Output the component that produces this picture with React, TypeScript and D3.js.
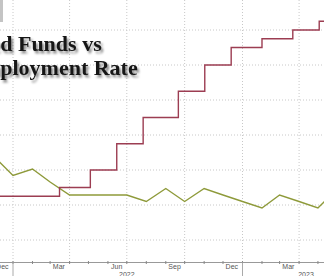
import React from "react";
import * as d3 from "d3";

const W = 324;
const H = 276;

// Fed funds target (upper bound), effective dates
const fedDates = ["2021-11-01", "2022-03-16", "2022-05-04", "2022-06-15", "2022-07-27", "2022-09-21", "2022-11-02", "2022-12-14", "2023-02-01", "2023-03-22", "2023-05-03", "2023-06-15"];
const fedValues = [0.25, 0.5, 1.0, 1.75, 2.5, 3.25, 4.0, 4.5, 4.75, 5.0, 5.25, 5.25];

// Unemployment rate, by reference month (plotted at month end)
const unempMonths = ["2021-11", "2021-12", "2022-01", "2022-02", "2022-03", "2022-04", "2022-05", "2022-06", "2022-07", "2022-08", "2022-09", "2022-10", "2022-11", "2022-12", "2023-01", "2023-02", "2023-03", "2023-04", "2023-05"];
const unempValues = [4.2, 3.9, 4.0, 3.8, 3.6, 3.6, 3.6, 3.6, 3.5, 3.7, 3.5, 3.7, 3.6, 3.5, 3.4, 3.6, 3.5, 3.4, 3.7];

const monthLabels = ["Dec", "Mar", "Jun", "Sep", "Dec", "Mar"];
const monthLabelDates = ["2021-12-15", "2022-03-15", "2022-06-15", "2022-09-15", "2022-12-15", "2023-03-15"];
const yearLabels = ["2022", "2023"];
const yearLabelDates = ["2022-07-01", "2023-04-12"];
const gridTicks = [-1, 0, 1, 2, 3, 4, 5];

const titleLines = ["Fed Funds vs", "Unemployment Rate"];

const parse = d3.utcParse("%Y-%m-%d");
const parseM = d3.utcParse("%Y-%m");

export default function App() {
  const x = d3.scaleUtc().domain([parse("2022-01-01")!, parse("2023-01-01")!]).range([13, 242.5]);
  const yFed = d3.scaleLinear().domain([-1, 5]).range([240, 30]);
  const yU = d3.scaleLinear().domain([3.0, 4.0]).range([234, 169]);

  const fedData = fedDates.map((d, i) => ({ d: parse(d)!, v: fedValues[i] }));
  const fedLine = d3.line<{ d: Date; v: number }>().x(p => x(p.d)).y(p => yFed(p.v)).curve(d3.curveStepAfter);

  const uData = unempMonths.map((m, i) => ({ d: d3.utcMonth.offset(parseM(m)!, 1), v: unempValues[i] }));
  const uLine = d3.line<{ d: Date; v: number }>().x(p => x(p.d)).y(p => yU(p.v));

  const domainStart = x.invert(-30);
  const domainEnd = x.invert(W + 30);
  const quarters = d3.utcMonth.every(3)!.range(domainStart, domainEnd).filter(d => d.getUTCMonth() % 3 === 0);
  const months = d3.utcMonth.range(domainStart, domainEnd);
  const years = d3.utcYear.range(domainStart, domainEnd);

  const axisY = 262.5;

  return (
    <svg width={W} height={H} style={{ position: "fixed", left: 0, top: 0, background: "#fff" }} fontFamily="Liberation Sans, Arial, sans-serif">
      <defs>
        <filter id="sh" x="-10%" y="-30%" width="130%" height="170%">
          <feDropShadow dx="2" dy="2.5" stdDeviation="1.2" floodColor="#000" floodOpacity="0.45" />
        </filter>
      </defs>
      <rect width={W} height={H} fill="#fff" />
      {/* grid */}
      {gridTicks.map(t => (
        <line key={"h" + t} x1={0} x2={W} y1={yFed(t)} y2={yFed(t)} stroke="#c8c8c8" strokeWidth={1} strokeDasharray="1,2" />
      ))}
      {quarters.map(q => (
        <line key={"v" + q.toISOString()} x1={x(q)} x2={x(q)} y1={0} y2={axisY} stroke="#c8c8c8" strokeWidth={1} strokeDasharray="1,2" />
      ))}
      {/* corner remnant */}
      <rect x={0} y={0} width={3} height={22} fill="#c4c4c4" />
      {/* title */}
      <g filter="url(#sh)" fontFamily="Liberation Serif, Times New Roman, serif" fontWeight="bold" fontSize={22} fill="#161616">
        <text x={-23} y={51}>{titleLines[0]}</text>
        <text x={-56} y={75}>{titleLines[1]}</text>
      </g>
      {/* lines */}
      <path d={uLine(uData) || ""} fill="none" stroke="#8e9a3a" strokeWidth={1.4} strokeLinejoin="miter" />
      <path d={fedLine(fedData) || ""} fill="none" stroke="#9c3d52" strokeWidth={1.4} />
      {/* axis */}
      <line x1={0} x2={W} y1={axisY} y2={axisY} stroke="#999" strokeWidth={1} />
      {months.map(m => (
        <line key={"m" + m.toISOString()} x1={x(m)} x2={x(m)} y1={axisY - 1.5} y2={axisY + 1.5} stroke="#888" strokeWidth={1} />
      ))}
      {years.map(yv => (
        <line key={"y" + yv.toISOString()} x1={x(yv)} x2={x(yv)} y1={axisY} y2={H} stroke="#aaa" strokeWidth={1} />
      ))}
      {monthLabels.map((l, i) => (
        <text key={"ml" + i} x={x(parse(monthLabelDates[i])!)} y={269} fontSize={7} fill="#555" textAnchor="middle">{l}</text>
      ))}
      {yearLabels.map((l, i) => (
        <text key={"yl" + i} x={x(parse(yearLabelDates[i])!)} y={277} fontSize={7} fill="#555" textAnchor="middle">{l}</text>
      ))}
    </svg>
  );
}
